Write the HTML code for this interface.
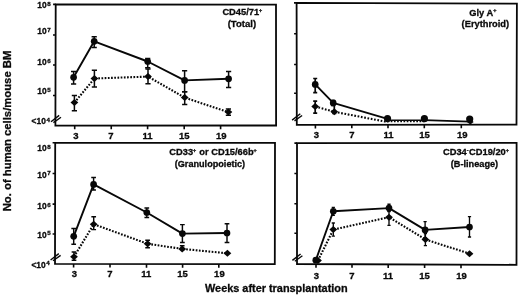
<!DOCTYPE html>
<html><head><meta charset="utf-8"><title>Figure</title>
<style>
html,body{margin:0;padding:0;background:#fff;}
body{width:520px;height:296px;overflow:hidden;position:relative;font-family:"Liberation Sans", sans-serif;}
svg{position:absolute;left:0;top:0;display:block;will-change:transform;opacity:0.999;filter:blur(0.35px);}
text{font-family:"Liberation Sans", sans-serif;font-weight:bold;fill:#0a0a0a;stroke:#0a0a0a;stroke-width:0.3px;}
.fr{fill:none;stroke:#080808;stroke-width:1.80;stroke-linejoin:miter;}
.tk{stroke:#080808;stroke-width:1.6;fill:none;}
.sl{fill:none;stroke:#080808;stroke-width:1.9;stroke-linejoin:round;}
.dl{fill:none;stroke:#080808;stroke-width:2.1;stroke-dasharray:1.7 1.5;}
.eb{stroke:#080808;stroke-width:1.6;fill:none;}
.mk{fill:#080808;stroke:none;}
.bk{stroke:#080808;stroke-width:1.4;fill:none;}
.yl{font-size:8.4px;}
.ys{font-size:6.2px;}
.xl{font-size:9.5px;text-anchor:middle;}
.pl{font-size:9.3px;}
.ps{font-size:5.4px;}
.ax{font-size:10.9px;}
</style></head><body>
<svg width="520" height="296" viewBox="0 0 520 296">
<rect x="0" y="0" width="520" height="296" fill="#ffffff"/>
<g id="p1">
<path class="fr" d="M55.70 4.40L276.00 4.70L276.10 125.50L55.40 125.60Z"/>
<path class="tk" d="M53.10 4.40H55.70M53.00 35.00H55.60M53.00 65.00H55.60M53.00 95.50H55.60M74.70 125.59V129.19M111.25 125.57V129.17M147.60 125.56V129.16M184.20 125.54V129.14M220.60 125.53V129.13"/>
<path class="bk" d="M51.00 121.80L59.20 115.40M53.40 122.60L61.00 117.20"/>
<polyline class="dl" points="74.40,102.60 94.40,78.50 148.00,76.60 184.70,97.60 228.40,112.10"/>
<path class="eb" style="stroke-width:1.5" d="M74.40 95.50V110.70M71.80 95.50H77.00M71.80 110.70H77.00"/>
<path class="mk" d="M70.50 102.60L74.40 99.10L78.30 102.60L74.40 106.10Z"/>
<path class="eb" style="stroke-width:1.5" d="M94.40 70.30V86.90M91.80 70.30H97.00M91.80 86.90H97.00"/>
<path class="mk" d="M90.50 78.50L94.40 75.00L98.30 78.50L94.40 82.00Z"/>
<path class="eb" style="stroke-width:1.5" d="M148.00 69.00V83.80M145.40 69.00H150.60M145.40 83.80H150.60"/>
<path class="mk" d="M144.10 76.60L148.00 73.10L151.90 76.60L148.00 80.10Z"/>
<path class="eb" style="stroke-width:1.5" d="M184.70 91.80V104.60M182.10 91.80H187.30M182.10 104.60H187.30"/>
<path class="mk" d="M180.80 97.60L184.70 94.10L188.60 97.60L184.70 101.10Z"/>
<path class="eb" style="stroke-width:1.5" d="M228.40 108.90V115.30M225.80 108.90H231.00M225.80 115.30H231.00"/>
<path class="mk" d="M224.50 112.10L228.40 108.60L232.30 112.10L228.40 115.60Z"/>
<polyline class="sl" points="73.60,77.30 94.20,41.30 147.70,61.50 184.60,80.40 228.60,78.80"/>
<path class="eb" style="stroke-width:1.5" d="M73.60 71.50V84.00M71.00 71.50H76.20M71.00 84.00H76.20"/>
<circle class="mk" cx="73.60" cy="77.30" r="3.35"/>
<path class="eb" style="stroke-width:1.5" d="M94.20 36.80V47.50M91.60 36.80H96.80M91.60 47.50H96.80"/>
<circle class="mk" cx="94.20" cy="41.30" r="3.35"/>
<path class="eb" style="stroke-width:1.5" d="M147.70 58.40V67.80M145.10 58.40H150.30M145.10 67.80H150.30"/>
<circle class="mk" cx="147.70" cy="61.50" r="3.35"/>
<path class="eb" style="stroke-width:1.5" d="M184.60 70.80V91.80M182.00 70.80H187.20M182.00 91.80H187.20"/>
<circle class="mk" cx="184.60" cy="80.40" r="3.35"/>
<path class="eb" style="stroke-width:1.5" d="M228.60 71.60V87.60M226.00 71.60H231.20M226.00 87.60H231.20"/>
<circle class="mk" cx="228.60" cy="78.80" r="3.35"/>
</g>
<g id="p2">
<path class="fr" d="M296.60 2.90L516.90 3.70L516.50 124.70L296.80 124.80Z"/>
<path class="tk" d="M294.00 2.90H296.60M294.10 33.75H296.70M294.10 64.50H296.70M294.10 93.30H296.70M315.40 124.79V128.39M351.80 124.77V128.37M388.00 124.76V128.36M424.30 124.74V128.34M461.30 124.73V128.33"/>
<path class="bk" d="M292.10 120.10L300.30 113.70M294.50 120.90L302.10 115.50"/>
<polyline class="dl" style="stroke-dasharray:1.7 1.65" points="315.2,106.5 334.3,111.8 387.5,122.0"/>
<polyline class="dl" style="stroke-width:1.4" points="387.5,121.5 424.4,121.5"/>
<path class="eb" style="stroke-width:1.7" d="M315.20 101.20V113.20M313.20 101.20H317.20M313.20 113.20H317.20"/>
<path class="mk" d="M311.30 106.50L315.20 103.00L319.10 106.50L315.20 110.00Z"/>
<path class="eb" style="stroke-width:1.7" d="M334.30 104.00V113.50M332.30 104.00H336.30M332.30 113.50H336.30"/>
<path class="mk" d="M330.40 111.80L334.30 108.30L338.20 111.80L334.30 115.30Z"/>
<path class="mk" d="M466.90 121.90L470.30 119.30L473.70 121.90L470.30 124.50Z"/>
<polyline class="sl" points="315.2,84.4 333.2,102.9 387.5,118.9"/>
<polyline class="sl" style="stroke-width:1.5" points="387.5,120.3 424.4,120.3"/>
<polyline class="sl" style="stroke-width:1.7" points="424.4,120.2 469.7,121.7"/>
<path class="eb" style="stroke-width:1.7" d="M315.20 78.50V92.70M313.20 78.50H317.20M313.20 92.70H317.20"/>
<circle class="mk" cx="315.20" cy="84.40" r="3.35"/>
<path class="eb" style="stroke-width:1.7" d="M333.20 100.50V105.50M331.20 100.50H335.20M331.20 105.50H335.20"/>
<circle class="mk" cx="333.20" cy="102.90" r="3.35"/>
<circle class="mk" cx="387.50" cy="118.60" r="3.60"/>
<circle class="mk" cx="424.40" cy="118.70" r="3.60"/>
<circle class="mk" cx="469.70" cy="119.00" r="3.60"/>
</g>
<g id="p3">
<path class="fr" d="M55.20 142.80L275.00 142.90L274.80 264.15L55.00 263.95Z"/>
<path class="tk" d="M52.60 142.80H55.20M52.60 173.50H55.20M52.60 204.10H55.20M52.60 234.00H55.20M73.60 263.97V267.57M110.00 264.00V267.60M146.50 264.03V267.63M182.60 264.07V267.67M218.80 264.10V267.70"/>
<path class="bk" d="M50.60 260.00L58.80 253.60M53.00 260.80L60.60 255.40"/>
<polyline class="dl" points="74.00,256.80 93.70,224.20 147.60,243.80 182.20,248.90 227.40,253.30"/>
<path class="eb" style="stroke-width:1.45" d="M74.00 252.00V260.20M71.65 252.00H76.35M71.65 260.20H76.35"/>
<path class="mk" d="M70.10 256.80L74.00 253.30L77.90 256.80L74.00 260.30Z"/>
<path class="eb" style="stroke-width:1.45" d="M93.70 216.80V229.60M91.35 216.80H96.05M91.35 229.60H96.05"/>
<path class="mk" d="M89.80 224.20L93.70 220.70L97.60 224.20L93.70 227.70Z"/>
<path class="eb" style="stroke-width:1.45" d="M147.60 240.30V247.80M145.25 240.30H149.95M145.25 247.80H149.95"/>
<path class="mk" d="M143.70 243.80L147.60 240.30L151.50 243.80L147.60 247.30Z"/>
<path class="eb" style="stroke-width:1.45" d="M182.20 245.70V247.70M179.85 245.70H184.55"/>
<path class="mk" d="M178.30 248.90L182.20 245.40L186.10 248.90L182.20 252.40Z"/>
<path class="mk" d="M223.50 253.30L227.40 249.80L231.30 253.30L227.40 256.80Z"/>
<polyline class="sl" points="73.70,236.30 93.60,184.40 146.80,212.50 182.40,233.60 227.00,233.00"/>
<path class="eb" style="stroke-width:1.45" d="M73.70 228.50V244.20M71.35 228.50H76.05M71.35 244.20H76.05"/>
<circle class="mk" cx="73.70" cy="236.30" r="3.35"/>
<path class="eb" style="stroke-width:1.45" d="M93.60 177.50V190.00M91.25 177.50H95.95M91.25 190.00H95.95"/>
<circle class="mk" cx="93.60" cy="184.40" r="3.35"/>
<path class="eb" style="stroke-width:1.45" d="M146.80 208.00V217.50M144.45 208.00H149.15M144.45 217.50H149.15"/>
<circle class="mk" cx="146.80" cy="212.50" r="3.35"/>
<path class="eb" style="stroke-width:1.45" d="M182.40 224.60V242.50M180.05 224.60H184.75M180.05 242.50H184.75"/>
<circle class="mk" cx="182.40" cy="233.60" r="3.35"/>
<path class="eb" style="stroke-width:1.45" d="M227.00 223.80V242.50M224.65 223.80H229.35M224.65 242.50H229.35"/>
<circle class="mk" cx="227.00" cy="233.00" r="3.35"/>
</g>
<g id="p4">
<path class="fr" d="M297.00 143.10L516.60 142.80L516.50 264.80L297.00 264.00Z"/>
<path class="tk" d="M294.40 143.10H297.00M294.40 173.50H297.00M294.40 203.80H297.00M294.40 233.30H297.00M316.00 264.07V267.67M352.00 264.20V267.80M388.20 264.33V267.93M424.60 264.47V268.07M461.00 264.60V268.20"/>
<path class="bk" d="M292.40 260.40L300.60 254.00M294.80 261.20L302.40 255.80"/>
<polyline class="dl" points="318.00,260.50 333.30,229.60 389.00,217.20 425.40,239.40 469.50,253.70"/>
<path class="mk" d="M314.10 260.50L318.00 257.00L321.90 260.50L318.00 264.00Z"/>
<path class="eb" style="stroke-width:1.35" d="M333.30 223.00V236.10M331.70 223.00H334.90M331.70 236.10H334.90"/>
<path class="mk" d="M329.40 229.60L333.30 226.10L337.20 229.60L333.30 233.10Z"/>
<path class="eb" style="stroke-width:1.35" d="M389.00 211.00V225.30M387.40 211.00H390.60M387.40 225.30H390.60"/>
<path class="mk" d="M385.10 217.20L389.00 213.70L392.90 217.20L389.00 220.70Z"/>
<path class="eb" style="stroke-width:1.35" d="M425.40 233.60V245.60M423.80 233.60H427.00M423.80 245.60H427.00"/>
<path class="mk" d="M421.50 239.40L425.40 235.90L429.30 239.40L425.40 242.90Z"/>
<path class="mk" d="M465.60 253.70L469.50 250.20L473.40 253.70L469.50 257.20Z"/>
<polyline class="sl" points="315.80,260.20 333.30,211.30 389.00,208.10 425.10,229.90 469.50,227.00"/>
<circle class="mk" cx="315.80" cy="260.20" r="3.35"/>
<path class="eb" style="stroke-width:1.35" d="M333.30 207.40V215.30M331.70 207.40H334.90M331.70 215.30H334.90"/>
<circle class="mk" cx="333.30" cy="211.30" r="3.35"/>
<path class="eb" style="stroke-width:1.35" d="M389.00 204.20V211.50M387.40 204.20H390.60M387.40 211.50H390.60"/>
<circle class="mk" cx="389.00" cy="208.10" r="3.35"/>
<path class="eb" style="stroke-width:1.35" d="M425.10 221.60V237.60M423.50 221.60H426.70M423.50 237.60H426.70"/>
<circle class="mk" cx="425.10" cy="229.90" r="3.35"/>
<path class="eb" style="stroke-width:1.35" d="M469.50 216.60V237.00M467.90 216.60H471.10M467.90 237.00H471.10"/>
<circle class="mk" cx="469.50" cy="227.00" r="3.35"/>
</g>
<text class="yl" x="46.60" y="7.80" text-anchor="end">10</text><text class="ys" x="47.20" y="5.90">8</text>
<text class="yl" x="46.60" y="34.40" text-anchor="end">10</text><text class="ys" x="47.20" y="31.90">7</text>
<text class="yl" x="46.60" y="65.40" text-anchor="end">10</text><text class="ys" x="47.20" y="62.90">6</text>
<text class="yl" x="46.60" y="94.20" text-anchor="end">10</text><text class="ys" x="47.20" y="91.70">5</text>
<text class="yl" x="45.80" y="124.30" text-anchor="end">&lt;10</text><text class="ys" x="46.40" y="121.80">4</text>
<text class="yl" x="46.60" y="151.40" text-anchor="end">10</text><text class="ys" x="47.20" y="148.90">8</text>
<text class="yl" x="46.60" y="177.80" text-anchor="end">10</text><text class="ys" x="47.20" y="175.30">7</text>
<text class="yl" x="46.60" y="209.00" text-anchor="end">10</text><text class="ys" x="47.20" y="206.50">6</text>
<text class="yl" x="46.60" y="237.80" text-anchor="end">10</text><text class="ys" x="47.20" y="235.30">5</text>
<text class="yl" x="45.60" y="267.60" text-anchor="end">&lt;10</text><text class="ys" x="46.20" y="265.10">4</text>
<text class="xl" x="76.00" y="139.20">3</text>
<text class="xl" x="111.00" y="139.20">7</text>
<text class="xl" x="147.40" y="139.20">11</text>
<text class="xl" x="184.20" y="139.20">15</text>
<text class="xl" x="221.20" y="139.20">19</text>
<text class="xl" x="316.40" y="137.50">3</text>
<text class="xl" x="351.80" y="137.50">7</text>
<text class="xl" x="388.60" y="137.50">11</text>
<text class="xl" x="424.50" y="137.50">15</text>
<text class="xl" x="462.30" y="137.50">19</text>
<text class="xl" x="74.40" y="277.10">3</text>
<text class="xl" x="110.00" y="277.10">7</text>
<text class="xl" x="146.30" y="277.10">11</text>
<text class="xl" x="182.50" y="277.10">15</text>
<text class="xl" x="219.40" y="277.10">19</text>
<text class="xl" x="316.30" y="278.60">3</text>
<text class="xl" x="351.80" y="278.60">7</text>
<text class="xl" x="388.00" y="278.60">11</text>
<text class="xl" x="424.50" y="278.60">15</text>
<text class="xl" x="461.50" y="278.60">19</text>
<text class="pl" x="222.40" y="15.30">CD45/71<tspan class="ps" dy="-3.2">+</tspan><tspan dy="3.2" dx="0.5" font-size="0.1">&#8203;</tspan></text>
<text class="pl" x="227.70" y="26.90" style="font-size:9.55px">(Total)</text>
<text class="pl" x="469.30" y="15.60">Gly A<tspan class="ps" dy="-3.2">+</tspan><tspan dy="3.2" dx="0.5" font-size="0.1">&#8203;</tspan></text>
<text class="pl" x="461.60" y="27.30">(Erythroid)</text>
<text class="pl" x="169.30" y="154.80">CD33<tspan class="ps" dy="-3.2">+</tspan><tspan dy="3.2" dx="0.5" font-size="0.1">&#8203;</tspan> or CD15/66b<tspan class="ps" dy="-3.2">+</tspan><tspan dy="3.2" dx="0.5" font-size="0.1">&#8203;</tspan></text>
<text class="pl" x="174.70" y="166.50" style="font-size:9.15px">(Granulopoietic)</text>
<text class="pl" x="443.00" y="155.40">CD34<tspan class="ps" dy="-3.2">-</tspan><tspan dy="3.2" dx="0.5" font-size="0.1">&#8203;</tspan>CD19/20<tspan class="ps" dy="-3.2">+</tspan><tspan dy="3.2" dx="0.5" font-size="0.1">&#8203;</tspan></text>
<text class="pl" x="450.70" y="167.00" style="font-size:9.2px">(B-lineage)</text>
<text class="ax" x="205.0" y="291.8">Weeks after transplantation</text>
<text class="ax" style="font-size:11.3px" transform="translate(10.5 211.3) rotate(-90)">No. of human cells/mouse BM</text>
</svg>
</body></html>
